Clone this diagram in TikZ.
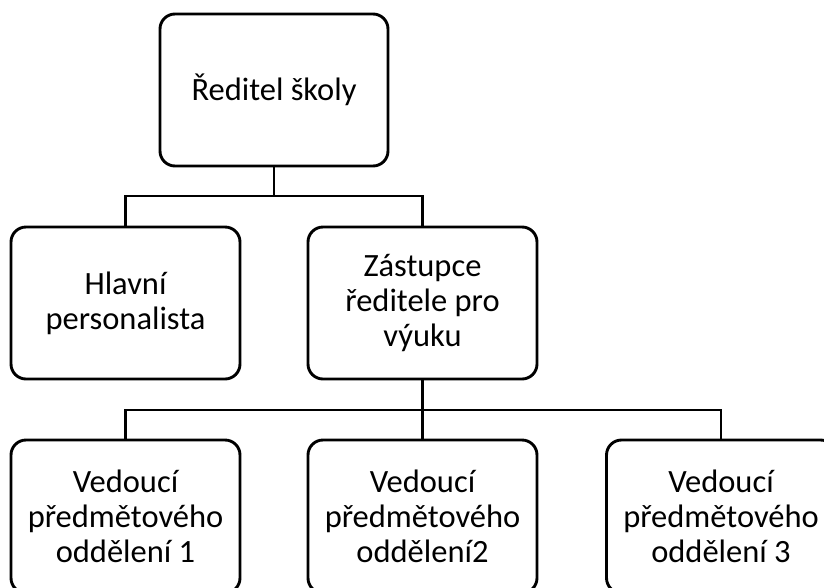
\documentclass[tikz,border=0pt]{standalone}
\usepackage{fontspec}
\setmainfont{Carlito}
\begin{document}
\begin{tikzpicture}[x=1pt,y=-1pt,
  orgbox/.style={draw=black, line width=2.9pt, rounded corners=15pt, fill=white,
    minimum width=229pt, minimum height=152pt, inner sep=0pt, align=center,
    font=\fontsize{32.5}{35}\selectfont},
  link/.style={draw=black, line width=2.9pt}]
\clip (0,0) rectangle (824,587);
\fill[white] (0,0) rectangle (824,587);
\node[orgbox, minimum width=228pt] (top) at (274,90) {Ředitel školy};
\node[orgbox] (hl) at (125.5,303) {Hlavní\\personalista};
\node[orgbox] (zs) at (422.5,303) {Zástupce\\ředitele pro\\výuku};
\node[orgbox, minimum height=153pt] (b1) at (125.5,516.5) {Vedoucí\\předmětového\\oddělení 1};
\node[orgbox, minimum height=153pt] (b2) at (422.5,516.5) {Vedoucí\\předmětového\\oddělení2};
\node[orgbox, minimum height=153pt] (b3) at (721,516.5) {Vedoucí\\předmětového\\oddělení 3};
\coordinate (j1) at (274,196);
\coordinate (j2) at (422.5,410);
\draw[link] (top.south) -- (j1);
\draw[link] (hl.north) |- (j1) -| (zs.north);
\draw[link] (zs.south) -- (b2.north);
\draw[link] (b1.north) |- (j2) -| (b3.north);
\end{tikzpicture}
\end{document}
